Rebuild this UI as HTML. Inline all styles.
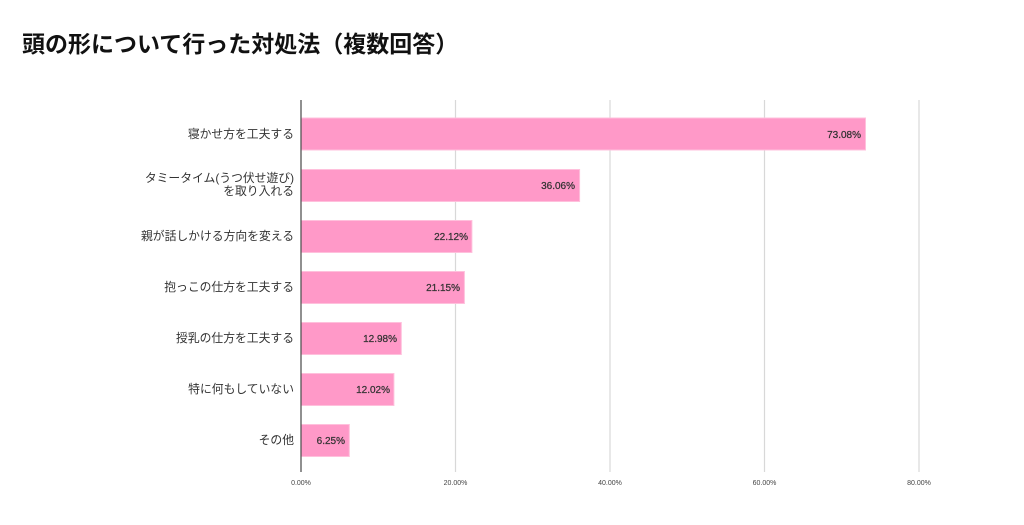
<!DOCTYPE html>
<html><head><meta charset="utf-8"><style>
body{margin:0;background:#fff;width:1024px;height:520px;overflow:hidden;font-family:"Liberation Sans","Noto Sans CJK JP",sans-serif}
</style></head><body>
<svg width="1024" height="520" xmlns="http://www.w3.org/2000/svg" font-family="Liberation Sans, Noto Sans CJK JP, sans-serif">
<text x="22" y="52" font-size="23" font-weight="bold" fill="#111">頭の形について行った対処法（複数回答）</text>
<g stroke="#d8d8d8" stroke-width="1.2">
<line x1="455.5" y1="100" x2="455.5" y2="472"/>
<line x1="610" y1="100" x2="610" y2="472"/>
<line x1="764.5" y1="100" x2="764.5" y2="472"/>
<line x1="919" y1="100" x2="919" y2="472"/>
</g>
<g fill="#ff99c8" stroke="#ffc0dc" stroke-width="1">
<rect x="301" y="118" width="564.5" height="32"/>
<rect x="301" y="169.5" width="278.6" height="32"/>
<rect x="301" y="220.5" width="170.9" height="32"/>
<rect x="301" y="271.5" width="163.4" height="32"/>
<rect x="301" y="322.5" width="100.3" height="32"/>
<rect x="301" y="373.5" width="92.9" height="32"/>
<rect x="301" y="424.5" width="48.3" height="32"/>
</g>
<line x1="301" y1="100" x2="301" y2="472" stroke="#555" stroke-width="1.3"/>
<g font-size="10" fill="#333" text-anchor="end" stroke="#333" stroke-width="0.25">
<text x="861" y="138">73.08%</text>
<text x="575" y="189">36.06%</text>
<text x="468" y="240">22.12%</text>
<text x="460" y="291">21.15%</text>
<text x="397" y="342">12.98%</text>
<text x="390" y="393">12.02%</text>
<text x="345" y="444">6.25%</text>
</g>
<g font-size="11.8" fill="#333" text-anchor="end">
<text x="294" y="138">寝かせ方を工夫する</text>
<text x="294" y="182">タミータイム(うつ伏せ遊び)</text>
<text x="294" y="195">を取り入れる</text>
<text x="294" y="240">親が話しかける方向を変える</text>
<text x="294" y="291">抱っこの仕方を工夫する</text>
<text x="294" y="342">授乳の仕方を工夫する</text>
<text x="294" y="393">特に何もしていない</text>
<text x="294" y="444">その他</text>
</g>
<g font-size="7" fill="#444" text-anchor="middle">
<text x="301" y="485">0.00%</text>
<text x="455.5" y="485">20.00%</text>
<text x="610" y="485">40.00%</text>
<text x="764.5" y="485">60.00%</text>
<text x="919" y="485">80.00%</text>
</g>
</svg>
</body></html>
